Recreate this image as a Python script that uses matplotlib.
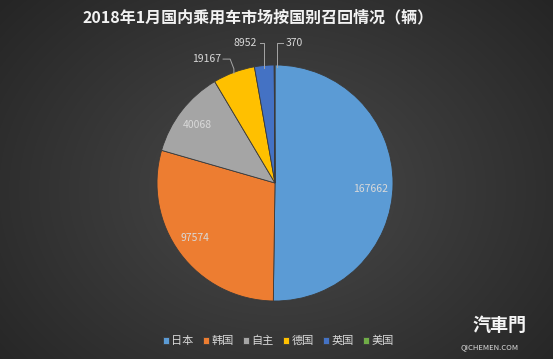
import numpy as np
import matplotlib
matplotlib.use("Agg")
import matplotlib.pyplot as plt

plt.rcParams['font.family'] = ['Noto Sans CJK SC', 'DejaVu Sans']

countries = ['日本', '韩国', '自主', '德国', '英国', '美国']
recalls = [167662, 97574, 40068, 19167, 8952, 370]
colors = ['#5B9BD5', '#ED7D31', '#A5A5A5', '#FFC000', '#4472C4', '#70AD47']
title = '2018年1月国内乘用车市场按国别召回情况（辆）'

W, H = 553, 359
fig = plt.figure(figsize=(W / 100, H / 100), dpi=100)

# radial gradient background
bg = fig.add_axes([0, 0, 1, 1])
yy, xx = np.mgrid[0:H, 0:W]
d = np.sqrt(((xx - 277) / 330.0) ** 2 + ((yy - 190) / 260.0) ** 2)
g = np.clip(0.29 - 0.13 * d, 0.14, 0.3)
bg.imshow(np.dstack([g, g, g]), extent=[0, W, H, 0], aspect='auto')
bg.set_xlim(0, W)
bg.set_ylim(H, 0)
bg.axis('off')

# pie axes: center (275,183), radius 118 px
cx, cy, R = 275, 183, 118
half = 165
ax = fig.add_axes([(cx - half) / W, (H - cy - half) / H, 2 * half / W, 2 * half / H])
wedges, _ = ax.pie(recalls, colors=colors, startangle=90, counterclock=False,
                   radius=1.0, wedgeprops=dict(linewidth=0.6, edgecolor='#3a3a3a'))
lim = half / R
ax.set_xlim(-lim, lim)
ax.set_ylim(-lim, lim)
ax.set_aspect('equal')
ax.axis('off')

lab_col = '#d9d9d9'
lc = '#a6a6a6'
# label positions (axes units, pie radius = 1)
lab_pos = [(0.81, -0.05), (-0.68, -0.47), (-0.66, 0.49),
           (-0.58, 1.05), (-0.25, 1.19), (0.16, 1.19)]
for v, (x, y) in zip(recalls, lab_pos):
    ax.text(x, y, str(v), ha='center', va='center', fontsize=7.5, color=lab_col)


def mid(w):
    a = np.deg2rad((w.theta1 + w.theta2) / 2)
    return np.cos(a), np.sin(a)


# leader lines for the small slices
mx, my = mid(wedges[3])
lx, ly = lab_pos[3]
ax.plot([lx + 0.14, lx + 0.2, mx, mx], [ly, ly, my + 0.03, my - 0.01],
        color=lc, lw=0.7)
mx, my = mid(wedges[4])
lx, ly = lab_pos[4]
ax.plot([lx + 0.12, mx, mx], [ly, ly, my - 0.02], color=lc, lw=0.7)
mx, my = mid(wedges[5])
lx, ly = lab_pos[5]
ax.plot([lx - 0.09, mx + 0.02, mx + 0.02], [ly, ly, my - 0.02], color=lc, lw=0.7)

fig.text(0.466, 1 - 17 / H, title, ha='center', va='center', fontsize=11.5,
         fontweight='bold', color='#f2f2f2')

leg = fig.legend(wedges, countries, loc='center', bbox_to_anchor=(0.503, 1 - 341 / H),
                 ncol=6, frameon=False, fontsize=8, labelcolor=lab_col,
                 handlelength=0.55, handleheight=0.55, handletextpad=0.25,
                 columnspacing=0.8)

# watermark
fig.text(0.903, 1 - 325 / H, '汽車門', ha='center', va='center', fontsize=13,
         fontweight='bold', color='#f5f5f5')
fig.text(0.885, 1 - 347 / H, 'QICHEMEN.COM', ha='center', va='center', fontsize=5.5,
         color='#e0e0e0')

fig.savefig('out.png', dpi=100)
